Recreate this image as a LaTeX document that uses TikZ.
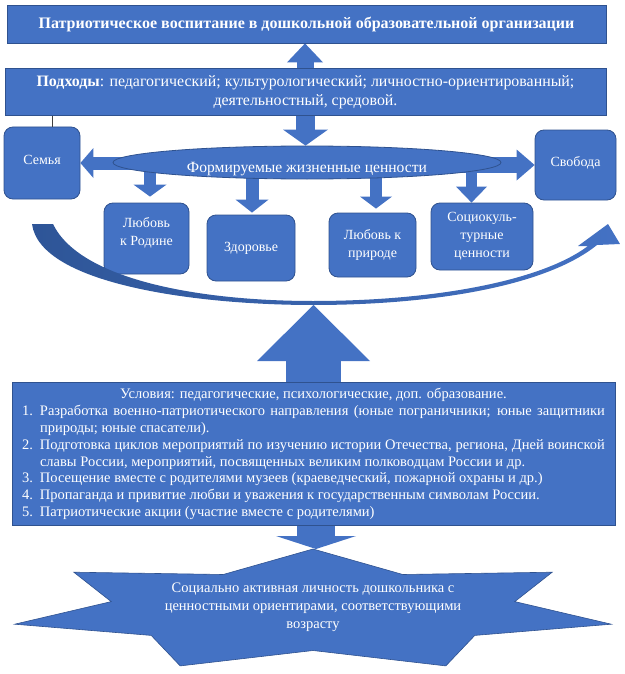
\documentclass[tikz,border=0pt]{standalone}
\usepackage{fontspec}
\setmainfont{Liberation Serif}
\usetikzlibrary{arrows.meta,shapes.geometric}
\definecolor{boxblue}{HTML}{4472C4}
\definecolor{edgeblue}{HTML}{2F528F}
\definecolor{curveblue}{HTML}{2E5597}
\pgfdeclarelayer{back}
\pgfsetlayers{back,main}
\tikzset{
  box/.style={draw=edgeblue, fill=boxblue, text=white, line width=0.8pt, align=center, inner sep=0pt},
  rbox/.style={box, rounded corners=9pt},
  blockarrow/.style n args={3}{draw=boxblue, line width=#1, -{Triangle[width=#2, length=#3, line width=0pt]}},
  tickline/.style={draw=black!75, line width=0.6pt},
}
\begin{document}
\begin{tikzpicture}[x=1pt, y=-1pt, font=\fontsize{14}{18}\selectfont]
\useasboundingbox (0,0) rectangle (624,674);
\node[box, minimum width=599pt, minimum height=38pt, font=\fontsize{16}{18}\selectfont\bfseries] (title) at (306.5,24) {Патриотическое воспитание в дошкольной образовательной организации};
\node[box, minimum width=601pt, minimum height=47pt, font=\fontsize{15.9}{19}\selectfont] (approach) at (305.5,92) {\textbf{Подходы}: педагогический; культурологический; личностно-ориентированный;\\ деятельностный, средовой.};
\node[box, ellipse, minimum width=388pt, minimum height=33pt, font=\fontsize{15.6}{18}\selectfont] (values) at (307,162.5) {\raisebox{-9.5pt}[0pt][0pt]{Формируемые жизненные ценности}};
\node[rbox, minimum width=76pt, minimum height=72pt, text depth=7pt] (family) at (42,163) {Семья};
\node[rbox, minimum width=81pt, minimum height=70pt, text depth=7pt] (freedom) at (575.5,165) {Свобода};
\node[rbox, minimum width=85pt, minimum height=71pt, text depth=14pt] (V_1) at (146.5,238.5) {Любовь\\ к Родине};
\node[rbox, minimum width=88pt, minimum height=66pt] (V_2) at (251,248) {Здоровье};
\node[rbox, minimum width=87pt, minimum height=64pt] (V_3) at (372.5,245) {Любовь к\\ природе};
\node[rbox, minimum width=102pt, minimum height=67pt] (V_4) at (482,236.5) {Социокуль-\\турные\\ ценности};
\draw[tickline] (approach.south -| 52,0) -- (family.north -| 52,0);
% curved arrow under the values
\coordinate (curvelow) at (313.5,305);
\shade[left color=curveblue, right color=boxblue] (53,224) -- (32,224) .. controls (40,285) and (200,305) .. (313,305) .. controls (430,305) and (545,287) .. (597,245) -- (620,244) -- (608,224) -- (578,246) -- (588,246) .. controls (540,282) and (430,301) .. (313,301) .. controls (200,301) and (80,280) .. (53,224) -- cycle;
\node[box, minimum width=603pt, minimum height=143pt, text width=583pt, align=justify, font=\fontsize{14.5}{16.8}\selectfont] (cond) at (313.5,454) {{\centering Условия: педагогические, психологические, доп. образование.\par}
\hangindent=18pt\hangafter=1\noindent\makebox[18pt][l]{1.}Разработка военно-патриотического направления (юные пограничники; юные защитники\linebreak природы; юные спасатели).\par
\hangindent=18pt\hangafter=1\noindent\makebox[18pt][l]{2.}Подготовка циклов мероприятий по изучению истории Отечества, региона, Дней воинской\linebreak славы России, мероприятий, посвященных великим полководцам России и др.\par
\hangindent=18pt\hangafter=1\noindent\makebox[18pt][l]{3.}Посещение вместе с родителями музеев (краеведческий, пожарной охраны и др.)\par
\hangindent=18pt\hangafter=1\noindent\makebox[18pt][l]{4.}Пропаганда и привитие любви и уважения к государственным символам России.\par
\hangindent=18pt\hangafter=1\noindent\makebox[18pt][l]{5.}Патриотические акции (участие вместе с родителями)\par};
% seven-point star
\coordinate (startop) at (316,549);
\draw[draw=edgeblue, fill=boxblue, line width=0.6pt] (313,549) -- (402.8,574.5) -- (552.2,572.2) -- (514.8,601.6) -- (611.3,624.2) -- (474.8,635.4) -- (445.8,665.9) -- (313,650.5) -- (180.2,665.9) -- (151.2,635.4) -- (14.7,624.2) -- (111.2,601.6) -- (73.8,572.2) -- (223.2,574.5) -- cycle;
\node[text=white, align=center, font=\fontsize{14.5}{18}\selectfont] (goal) at (313,607) {Социально активная личность дошкольника с\\ ценностными ориентирами, соответствующими\\ возрасту};
\begin{pgfonlayer}{back}
\draw[blockarrow={17pt}{36pt}{19pt}] (approach.center -| 305,0) -- (title.south -| 305,0);
\draw[blockarrow={19pt}{45pt}{16pt}] (approach.center -| 305.5,0) -- (values.north -| 305.5,0);
\draw[blockarrow={13pt}{30pt}{13pt}] (values.center |- family.east) -- (family.east);
\draw[blockarrow={16pt}{31pt}{18pt}] (values.center |- freedom.west) -- (freedom.west);
\draw[blockarrow={12pt}{33pt}{12pt}, shorten >=6pt] (values.center -| 150,0) -- (V_1.north -| 150,0);
\draw[blockarrow={13pt}{33pt}{13pt}, shorten >=2pt] (values.center -| 252,0) -- (V_2.north -| 252,0);
\draw[blockarrow={12pt}{32pt}{12pt}, shorten >=4pt] (values.center -| 376,0) -- (V_3.north -| 376,0);
\draw[blockarrow={11pt}{31pt}{16pt}] (values.center -| 471.5,0) -- (V_4.north -| 471.5,0);
\draw[blockarrow={55pt}{113pt}{56pt}] (cond.center -| curvelow) -- (curvelow);
\draw[blockarrow={38pt}{80pt}{13pt}] (cond.center -| startop) -- (startop);
\end{pgfonlayer}
\end{tikzpicture}
\end{document}
